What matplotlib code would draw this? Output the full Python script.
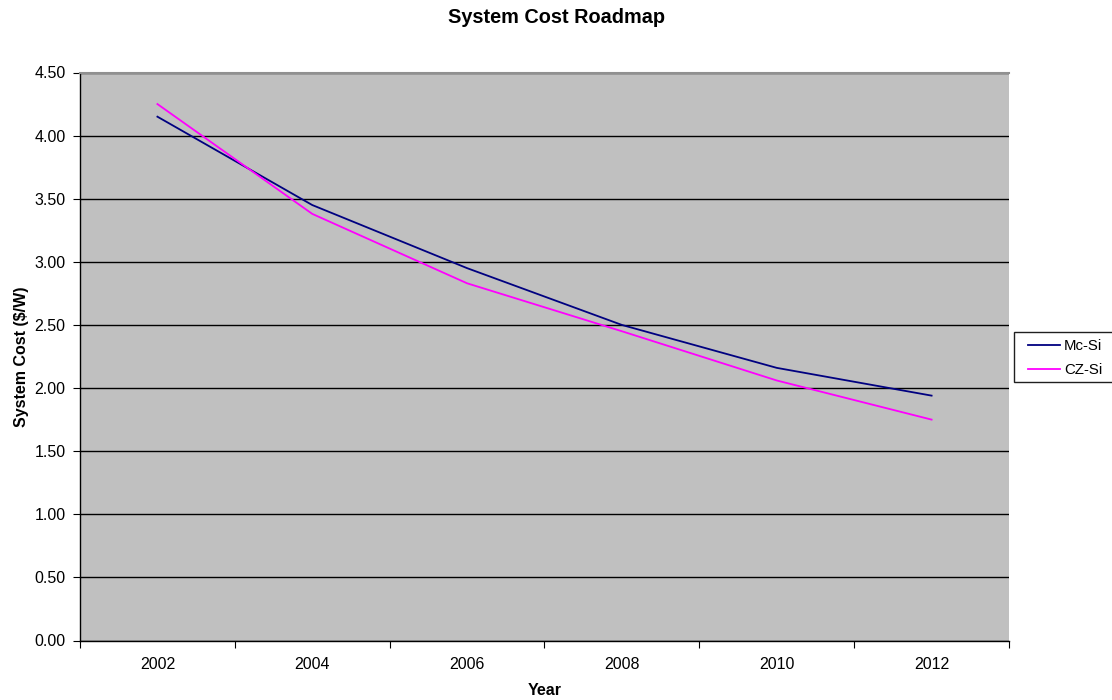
import matplotlib
matplotlib.use("Agg")
import matplotlib.pyplot as plt
from matplotlib.patches import Rectangle
from matplotlib.ticker import MultipleLocator, FormatStrFormatter

years = ["2002", "2004", "2006", "2008", "2010", "2012"]
mc_si = [4.15, 3.45, 2.95, 2.50, 2.16, 1.94]
cz_si = [4.25, 3.38, 2.83, 2.45, 2.06, 1.75]

plt.rcParams['font.family'] = ['Liberation Sans', 'DejaVu Sans']

fig = plt.figure(figsize=(11.12, 7.0), dpi=100)
W, H = 1112, 700
ax = fig.add_axes([80 / W, 1 - 640.5 / H, (1009 - 80) / W, (640.5 - 72.5) / H])
ax.set_facecolor('#c0c0c0')

x = list(range(len(years)))
l1, = ax.plot(x, mc_si, color='#000080', lw=1.3, label='Mc-Si')
l2, = ax.plot(x, cz_si, color='#ff00ff', lw=1.3, label='CZ-Si')

ax.set_xlim(-0.5, len(years) - 0.5)
ax.set_ylim(0, 4.5)
ax.yaxis.set_major_locator(MultipleLocator(0.5))
ax.yaxis.set_major_formatter(FormatStrFormatter('%.2f'))
ax.grid(axis='y', color='black', lw=1)
ax.set_axisbelow(True)

ax.set_xticks([i - 0.5 for i in range(len(years) + 1)])
ax.set_xticklabels([])
ax.set_xticks(x, minor=True)
ax.set_xticklabels(years, minor=True)
ax.tick_params(axis='x', which='major', length=5, direction='out', color='black')
ax.tick_params(axis='x', which='minor', length=0, pad=12, labelsize=11.5)
ax.tick_params(axis='y', length=5, direction='out', labelsize=11.5, pad=5.5)

ax.spines['right'].set_visible(False)
ax.spines['top'].set_color('#909090')
ax.spines['top'].set_linewidth(1.5)
for s in ['left', 'bottom']:
    ax.spines[s].set_color('black')
    ax.spines[s].set_linewidth(1)

ax.set_xlabel('Year', fontsize=11.5, fontweight='bold', labelpad=8)
ax.set_ylabel('System Cost ($/W)', fontsize=11.5, fontweight='bold', labelpad=4)
fig.text(0.5, 1 - 17.5 / H, 'System Cost Roadmap', ha='center', va='center',
         fontsize=14.3, fontweight='bold')

# legend frame (extends past the right edge of the figure, as in the reference)
frame = Rectangle((1014 / W, 1 - 382 / H), 120 / W, 50 / H,
                  transform=fig.transFigure, facecolor='white',
                  edgecolor='#202020', lw=1, zorder=1)
fig.patches.append(frame)
leg = fig.legend(handles=[l1, l2], loc='upper left',
                 bbox_to_anchor=(1028 / W, 1 - 339.5 / H), fontsize=10.8,
                 frameon=False, handlelength=2.1, handletextpad=0.3,
                 borderpad=0, labelspacing=0.65, borderaxespad=0)
leg.set_zorder(2)

fig.savefig('out.png', dpi=100)
